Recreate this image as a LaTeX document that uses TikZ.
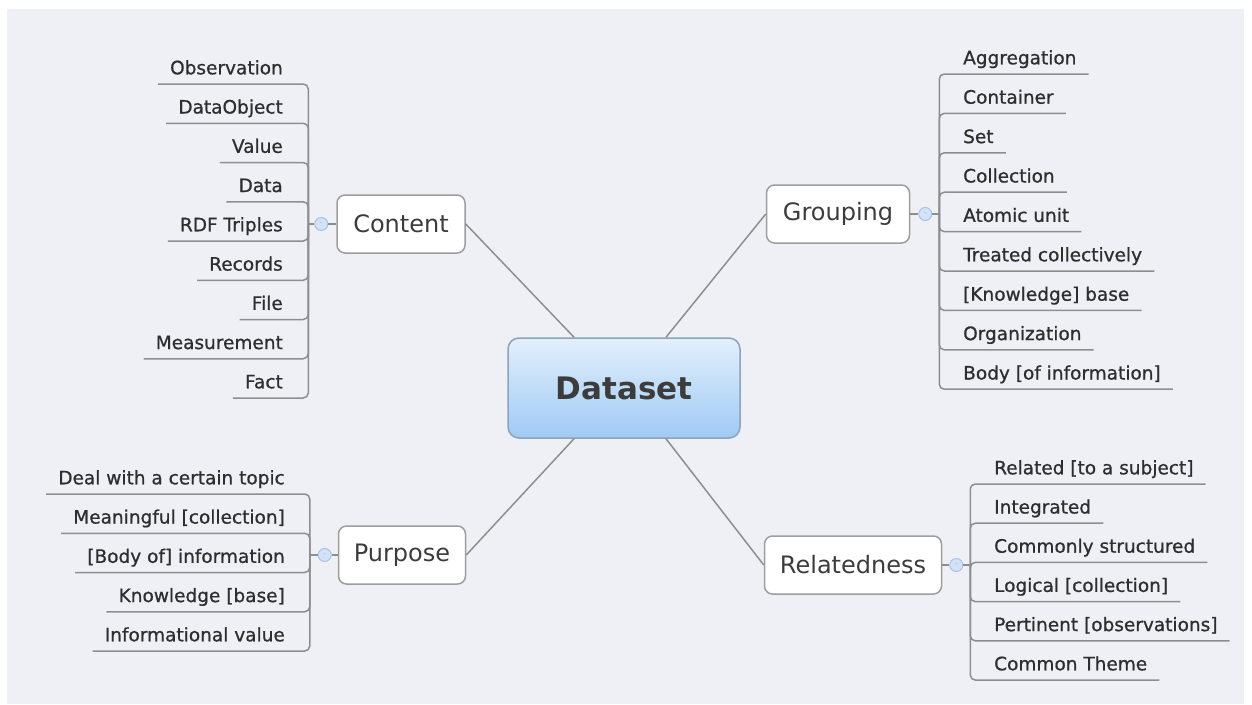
\documentclass[tikz,border=0pt]{standalone}
\usepackage{fontspec}
\setmainfont{DejaVu Sans}
\newfontfamily\leaffont{DejaVu Sans}[FakeBold=0.8]
\usepackage{xcolor}
\usepackage{tikz}
\usetikzlibrary{positioning}
\usetikzlibrary{calc}
\definecolor{panel}{HTML}{EFF0F5}
\definecolor{branchgray}{HTML}{8E8E8E}
\definecolor{boxgray}{HTML}{9E9E9E}
\definecolor{inkgray}{HTML}{3C3C3C}
\definecolor{leafink}{HTML}{2E2E2E}
\definecolor{dotfill}{HTML}{D3E2F6}
\definecolor{dotdraw}{HTML}{A9C3E8}
\definecolor{topblue}{HTML}{E2EFFC}
\definecolor{botblue}{HTML}{9FCAF4}
\definecolor{rootedge}{HTML}{8DA3BC}
\tikzset{
  rootbox/.style={draw=rootedge,line width=1.5pt,rounded corners=11pt,top color=topblue,bottom color=botblue,
    minimum width=232pt,minimum height=100pt,font=\fontsize{31}{31}\selectfont\bfseries,text=inkgray},
  topicbox/.style={draw=boxgray,line width=1.5pt,fill=white,rounded corners=8pt,minimum height=58pt,
    inner xsep=14pt,font=\fontsize{24}{24}\selectfont,text=inkgray},
  leafitem/.style={inner xsep=12pt,inner ysep=0pt,text height=14pt,text depth=9.5pt,
    font=\leaffont\fontsize{18.5}{18.5}\selectfont,text=leafink},
  foldmark/.style={circle,draw=dotdraw,fill=dotfill,line width=1pt,minimum size=13pt,inner sep=0pt,
    font=\fontsize{9}{9}\selectfont,text=dotdraw},
  branchline/.style={draw=branchgray,line width=1.5pt,rounded corners=5pt},
}
\begin{document}
\begin{tikzpicture}[x=1pt,y=-1pt]
        %%% PANEL %%%
        \useasboundingbox (0,0) rectangle (1252,704);
        \fill[white] (0,0) rectangle (1252,704);
        \fill[panel] (7,9) rectangle (1244,704);

        %%% CENTRAL & MAIN TOPICS %%%
        \node[rootbox] (dataset) at (624,388) {Dataset};
        \node[topicbox,minimum width=128pt] (content) at (401,224) {Content};
        \node[topicbox,minimum width=143pt] (grouping) at (838,214) {Grouping};
        \node[topicbox,minimum width=127pt] (purpose) at (402,555) {Purpose};
        \node[topicbox,minimum width=177pt] (relatedness) at (853,565) {Relatedness};

        \draw[branchline] ([xshift=-50pt]dataset.north) -- (content.east);
        \draw[branchline] ([xshift=42pt]dataset.north) -- (grouping.west);
        \draw[branchline] ([xshift=-50pt]dataset.south) -- (purpose.east);
        \draw[branchline] ([xshift=42pt]dataset.south) -- (relatedness.west);

        %%% FOLD MARKS %%%
        \node[foldmark,left=8pt of content] (content-dot) {-};
        \node[foldmark,right=8pt of grouping] (grouping-dot) {-};
        \node[foldmark,left=6pt of purpose] (purpose-dot) {-};
        \node[foldmark,right=7pt of relatedness] (relatedness-dot) {-};

        \draw[branchline] (content.west) -- (content-dot.east);
        \draw[branchline] (grouping.east) -- (grouping-dot.west);
        \draw[branchline] (purpose.west) -- (purpose-dot.east);
        \draw[branchline] (relatedness.east) -- (relatedness-dot.west);

        \coordinate (content-spine) at ([xshift=-6pt]content-dot.west);
        \coordinate (grouping-spine) at ([xshift=7pt]grouping-dot.east);
        \coordinate (purpose-spine) at ([xshift=-8pt]purpose-dot.west);
        \coordinate (relatedness-spine) at ([xshift=7pt]relatedness-dot.east);

        \draw[branchline] (content-dot.west) -- (content-spine);
        \draw[branchline] (grouping-dot.east) -- (grouping-spine);
        \draw[branchline] (purpose-dot.west) -- (purpose-spine);
        \draw[branchline] (relatedness-dot.east) -- (relatedness-spine);

        %%% CONTENT %%%
        \foreach \txt [count=\i] in {Observation,DataObject,Value,Data,RDF Triples,Records,File,Measurement,Fact}{
            \node[leafitem,anchor=south east] (content-\i) at (295,{84+39.25*(\i-1)}) {\txt};
            \draw[branchline] (content-spine) |- (content-\i.south east) -- (content-\i.south west);
        }

        %%% GROUPING %%%
        \foreach \txt [count=\i] in {Aggregation,Container,Set,Collection,Atomic unit,Treated collectively,
            {[Knowledge] base},Organization,{Body [of information]}}{
            \node[leafitem,anchor=south west] (grouping-\i) at (951,{74+39.4*(\i-1)}) {\txt};
            \draw[branchline] (grouping-spine) |- (grouping-\i.south west) -- (grouping-\i.south east);
        }

        %%% PURPOSE %%%
        \foreach \txt [count=\i] in {Deal with a certain topic,{Meaningful [collection]},{[Body of] information},
            {Knowledge [base]},Informational value}{
            \node[leafitem,anchor=south east] (purpose-\i) at (297,{494+39.25*(\i-1)}) {\txt};
            \draw[branchline] (purpose-spine) |- (purpose-\i.south east) -- (purpose-\i.south west);
        }

        %%% RELATEDNESS %%%
        \foreach \txt [count=\i] in {{Related [to a subject]},Integrated,Commonly structured,{Logical [collection]},
            {Pertinent [observations]},Common Theme}{
            \node[leafitem,anchor=south west] (relatedness-\i) at (982,{484+39.2*(\i-1)}) {\txt};
            \draw[branchline] (relatedness-spine) |- (relatedness-\i.south west) -- (relatedness-\i.south east);
        }
    \end{tikzpicture}
\end{document}
